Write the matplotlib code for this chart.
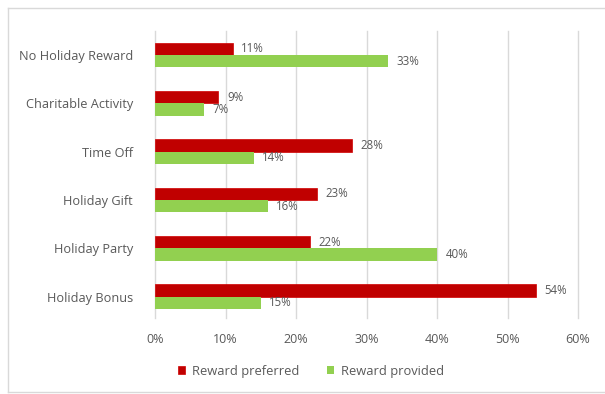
import matplotlib
matplotlib.use("Agg")
import matplotlib.pyplot as plt
from matplotlib.lines import Line2D
import numpy as np

categories = ["Holiday Bonus", "Holiday Party", "Holiday Gift", "Time Off",
              "Charitable Activity", "No Holiday Reward"]
preferred = [54, 22, 23, 28, 9, 11]
provided = [15, 40, 16, 14, 7, 33]
series_names = ["Reward preferred", "Reward provided"]
xticks = [0, 10, 20, 30, 40, 50, 60]

RED = "#C00000"
GREEN = "#92D050"
TXT = "#595959"

plt.rcParams['font.family'] = ['Open Sans', 'DejaVu Sans']

fig = plt.figure(figsize=(6.05, 3.94), dpi=100)
W, H = 605, 394
frame_kw = dict(transform=fig.transFigure, color="#d9d9d9", linewidth=1.0)
fig.lines.append(Line2D([8/W, 8/W], [1 - 392/H, 1 - 8/H], **frame_kw))
fig.lines.append(Line2D([8/W, 1], [1 - 8/H, 1 - 8/H], **frame_kw))
fig.lines.append(Line2D([8/W, 1], [1 - 392/H, 1 - 392/H], **frame_kw))

ax = fig.add_axes([155/W, 1 - 318/H, (578-155)/W, (318-31)/H])

y = np.arange(len(categories))
h = 0.255
b1 = ax.barh(y + h/2, preferred, height=h, color=RED, edgecolor="#d00000", linewidth=0.5,
             label=series_names[0], zorder=3)
b2 = ax.barh(y - h/2, provided, height=h, color=GREEN, label=series_names[1], zorder=3)

for bars, vals in ((b1, preferred), (b2, provided)):
    for bar, v in zip(bars, vals):
        ax.text(bar.get_width() + 1.2, bar.get_y() + bar.get_height()/2, f"{v}%",
                va="center", ha="left", fontsize=8.3, color=TXT)

ax.set_xlim(0, 60)
ax.set_ylim(-0.44, 5.5)
ax.set_xticks(xticks)
ax.set_xticklabels([f"{t}%" for t in xticks], fontsize=9, color=TXT)
ax.set_yticks(y)
ax.set_yticklabels(categories, fontsize=9.2, color=TXT)
ax.tick_params(axis="both", length=0)
ax.tick_params(axis="x", pad=11)
ax.tick_params(axis="y", pad=16)
ax.grid(axis="x", color="#d9d9d9", linewidth=1.0, zorder=0)
for gl in ax.get_xgridlines():
    gl.set_clip_on(False)
for s in ax.spines.values():
    s.set_visible(False)

leg = fig.legend(handles=[b1, b2], labels=series_names, loc="center",
                 bbox_to_anchor=(311/W, 1 - 371/H), ncol=2, frameon=False,
                 fontsize=9.3, handlelength=0.55, handleheight=0.55, columnspacing=2.2,
                 handletextpad=0.5)
for t in leg.get_texts():
    t.set_color(TXT)

fig.savefig("out.png", dpi=100)
